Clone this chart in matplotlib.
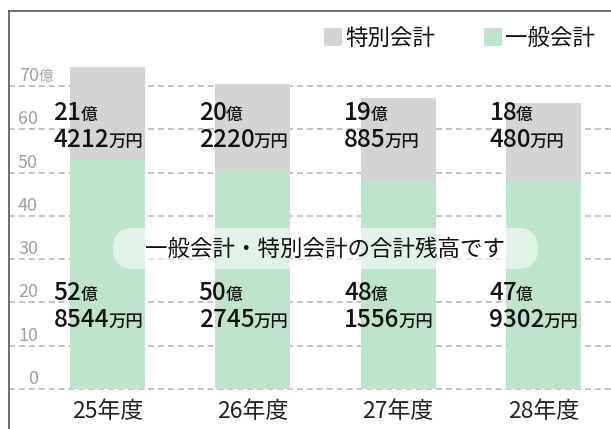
import matplotlib
matplotlib.use('Agg')
import matplotlib.pyplot as plt
from matplotlib.patches import FancyBboxPatch, Rectangle
from matplotlib.transforms import IdentityTransform

plt.rcParams['font.family'] = ['Noto Sans CJK JP', 'DejaVu Sans']

categories = ['25年度', '26年度', '27年度', '28年度']
general = [52.8544, 50.2745, 48.1556, 47.9302]   # 一般会計 (億円)
special = [21.4212, 20.2220, 19.0885, 18.0480]   # 特別会計 (億円)
yticks = [0, 10, 20, 30, 40, 50, 60, 70]
legend_labels = ['特別会計', '一般会計']
note = '一般会計・特別会計の合計残高です'

GREEN = '#bee4cc'
GRAY = '#d4d4d4'

W, H = 611, 429
fig = plt.figure(figsize=(W / 100, H / 100), dpi=100)
ax = fig.add_axes([9 / W, 0, 1 - 9 / W, (H - 11) / H])

PX_Y0, PX_PER_UNIT_Y = 389, 4.33
PX_X0, PX_PER_CAT = 107.5, 145.3


def px2y(py):
    return (PX_Y0 - py) / PX_PER_UNIT_Y


def px2x(px):
    return (px - PX_X0) / PX_PER_CAT


ax.set_ylim(px2y(H), px2y(11))
ax.set_xlim(px2x(9), px2x(W))

x = list(range(len(categories)))
ax.bar(x, general, width=0.516, color=GREEN, zorder=2)
ax.bar(x, special, bottom=general, width=0.516, color=GRAY, zorder=2)

for v in yticks:
    ax.axhline(v, color='#bdbdbd', lw=1.3, ls=(0, (3.3, 2.2)), zorder=1)

for s in ['right', 'bottom']:
    ax.spines[s].set_visible(False)
for s in ['left', 'top']:
    ax.spines[s].set_color('#555555')
    ax.spines[s].set_linewidth(1.2)
ax.set_xticks([])
ax.set_yticks([])

fig.canvas.draw()
renderer = fig.canvas.get_renderer()


def two_part(xd, yd, big, small, big_size, small_size, color, ha='left',
             big_weight='normal', gap=0):
    t1 = ax.text(xd, yd, big, fontsize=big_size, ha=ha, va='baseline', color=color,
                 weight=big_weight, zorder=5)
    bb = t1.get_window_extent(renderer)
    x1 = ax.transData.inverted().transform((bb.x1 + gap, 0))[0]
    ax.text(x1, yd, small, fontsize=small_size, ha='left', va='baseline', color=color,
            weight=big_weight, zorder=5)


# y tick labels
for v in yticks:
    yb = v + 5 / PX_PER_UNIT_Y
    if v == 70:
        two_part(px2x(19), yb, str(v), '億', 13, 10.5, '#a0a0a0')
    else:
        ax.text(px2x(38), yb, str(v), fontsize=13, ha='right', va='baseline',
                color='#a0a0a0', zorder=5)

# data labels
for i in x:
    lx = i - 54 / PX_PER_CAT
    for val, y1, y2 in [(special[i], px2y(120), px2y(147)), (general[i], px2y(300), px2y(327))]:
        oku = int(val)
        man = int(round((val - oku) * 10000))
        two_part(lx, y1, str(oku), '億', 17.5, 12, '#111111', big_weight='medium', gap=-1)
        two_part(lx, y2, str(man), '万円', 17.5, 12.5, '#111111', big_weight='medium', gap=-1)

# category labels
for i, c in enumerate(categories):
    ax.text(i, px2y(411), c, fontsize=16.5, ha='center', va='center', color='#222222')

# overlay note box (pixel coordinates)
bx0, by0, bx1, by1 = 113, 228, 538, 269
r = (by1 - by0) / 2
box = FancyBboxPatch((bx0, H - by1), (bx1 - bx0), (by1 - by0),
                     boxstyle=f'round,pad=0,rounding_size={r}',
                     transform=IdentityTransform(), facecolor='white', alpha=0.55,
                     edgecolor='none', zorder=6)
fig.patches.append(box)
fig.text((bx0 + bx1) / 2 / W, 1 - 249 / H, note, fontsize=16.2, ha='center', va='center',
         color='#111111', zorder=7)

# legend
for (lx0, color, label) in [(324, GRAY, legend_labels[0]), (484, GREEN, legend_labels[1])]:
    sq = Rectangle((lx0, H - 46), 18, 18, transform=IdentityTransform(),
                   facecolor=color, edgecolor='none')
    fig.patches.append(sq)
    fig.text((lx0 + 21) / W, 1 - 38 / H, label, fontsize=16.2, ha='left', va='center',
             color='#111111')

fig.savefig('out.png', dpi=100)
